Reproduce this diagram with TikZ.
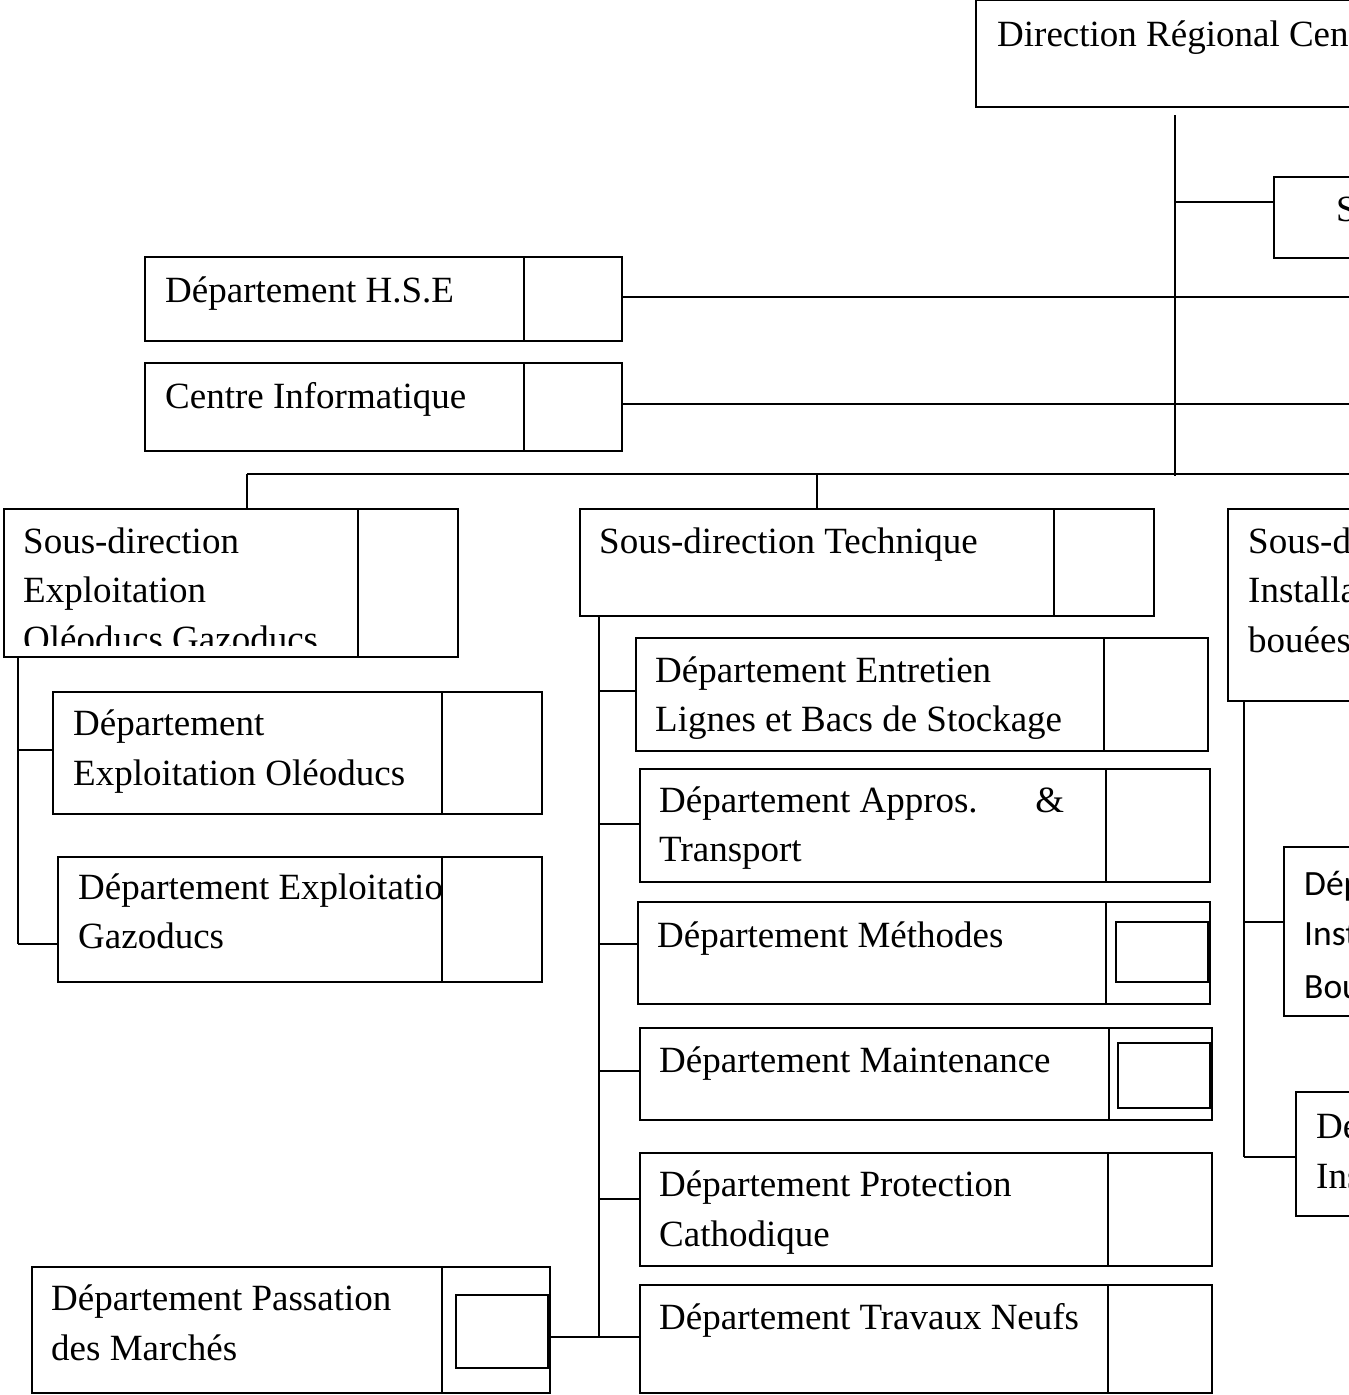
\documentclass[tikz,border=0pt]{standalone}
\usepackage{fontspec}
\setmainfont{Liberation Serif}
\newfontfamily\calib{Carlito}
\begin{document}
\begin{tikzpicture}[x=1pt,y=-1pt,
  ln/.style={line width=1.5pt},
  bx/.style={draw, line width=1.5pt, rectangle, inner sep=0pt, anchor=north west},
  tx/.style={anchor=base west, inner sep=0pt, font=\fontsize{37}{49}\selectfont},
  sx/.style={anchor=base west, inner sep=0pt, font=\calib\fontsize{35.5}{49}\selectfont}]
\useasboundingbox (0,0) rectangle (1349,1395);
\clip (0,0) rectangle (1349,1395);
% Direction
\node[bx, minimum width=420pt, minimum height=107pt] (dir) at (975,-1) {};
\node[tx] (dirT) at (997,46) {Direction Régional Cen};
% trunk
\coordinate (tTop) at (1175,115);
\coordinate (tBot) at (1175,476);
\draw[ln] (tTop) -- (tBot);
% S box
\node[bx, minimum width=200pt, minimum height=81pt] (sbox) at (1273,176) {};
\node[tx] (sboxT) at (1336,221) {S};
\coordinate (j1) at (1175,202);
\draw[ln] (j1) -- (j1 -| sbox.west);
% HSE
\node[bx, minimum width=379pt, minimum height=84pt] (hse) at (144,256) {};
\node[bx, minimum width=98pt, minimum height=84pt] (hseS) at (523,256) {};
\node[tx] (hseT) at (165,302) {Département H.S.E};
\coordinate (hseE) at (1352,297);
\draw[ln] (hseE -| hseS.east) -- (hseE);
% Centre Informatique
\node[bx, minimum width=379pt, minimum height=88pt] (ci) at (144,362) {};
\node[bx, minimum width=98pt, minimum height=88pt] (ciS) at (523,362) {};
\node[tx] (ciT) at (165,408) {Centre Informatique};
\coordinate (ciE) at (1352,404);
\draw[ln] (ciE -| ciS.east) -- (ciE);
% bottom bar
\coordinate (barL) at (247,474);
\coordinate (barR) at (1352,474);
\coordinate (barM) at (817,474);
\draw[ln] (barL) -- (barR);
% Sous-direction Exploitation
\node[bx, minimum width=354pt, minimum height=148pt] (sde) at (3,508) {};
\node[bx, minimum width=100pt, minimum height=148pt] (sdeS) at (357,508) {};
\draw[ln] (barL) -- (barL |- sde.north);
\node[tx] (sdeT1) at (23,553) {Sous-direction};
\node[tx] (sdeT2) at (23,602) {Exploitation};
\begin{scope}
\clip (0,600) rectangle (357,645);
\node[tx] (sdeT3) at (23,651) {Oléoducs Gazoducs};
\end{scope}
% left vertical
\coordinate (lvTop) at (18,656);
\coordinate (lvBot) at (18,944);
\draw[ln] (lvTop) -- (lvBot);
% Dep Expl Oleoducs
\node[bx, minimum width=389pt, minimum height=122pt] (deo) at (52,691) {};
\node[bx, minimum width=100pt, minimum height=122pt] (deoS) at (441,691) {};
\node[tx] (deoT1) at (73,735) {Département};
\node[tx] (deoT2) at (73,785) {Exploitation Oléoducs};
\coordinate (jdeo) at (18,750);
\draw[ln] (jdeo) -- (jdeo -| deo.west);
% Dep Expl Gazoducs
\node[bx, minimum width=384pt, minimum height=125pt] (deg) at (57,856) {};
\node[bx, minimum width=100pt, minimum height=125pt] (degS) at (441,856) {};
\begin{scope}
\clip (60,860) rectangle (440,910);
\node[tx] (degT1) at (78,899) {Département Exploitatio};
\end{scope}
\node[tx] (degT2) at (78,948) {Gazoducs};
\draw[ln] (lvBot) -- (lvBot -| deg.west);
% Sous-direction Technique
\node[bx, minimum width=474pt, minimum height=107pt] (sdt) at (579,508) {};
\node[bx, minimum width=100pt, minimum height=107pt] (sdtS) at (1053,508) {};
\node[tx] (sdtT) at (599,553) {Sous-direction Technique};
\draw[ln] (barM) -- (barM |- sdt.north);
% middle vertical
\coordinate (mvTop) at (599,615);
\coordinate (mvBot) at (599,1337);
\draw[ln] (mvTop) -- (mvBot);
% Entretien
\node[bx, minimum width=468pt, minimum height=113pt] (ent) at (635,637) {};
\node[bx, minimum width=104pt, minimum height=113pt] (entS) at (1103,637) {};
\node[tx] (entT1) at (655,682) {Département Entretien};
\node[tx] (entT2) at (655,731) {Lignes et Bacs de Stockage};
\coordinate (jent) at (599,691);
\draw[ln] (jent) -- (jent -| ent.west);
% Appros
\node[bx, minimum width=466pt, minimum height=113pt] (app) at (639,768) {};
\node[bx, minimum width=104pt, minimum height=113pt] (appS) at (1105,768) {};
\node[tx] (appT1) at (659,812) {\hbox to 405pt{Département Appros.\hfill\&}};
\node[tx] (appT2) at (659,861) {Transport};
\coordinate (japp) at (599,824);
\draw[ln] (japp) -- (japp -| app.west);
% Methodes
\node[bx, minimum width=468pt, minimum height=102pt] (met) at (637,901) {};
\node[bx, minimum width=104pt, minimum height=102pt] (metS) at (1105,901) {};
\node[bx, minimum width=92pt, minimum height=60pt] (metI) at (1115,921) {};
\node[tx] (metT) at (657,947) {Département Méthodes};
\coordinate (jmet) at (599,944);
\draw[ln] (jmet) -- (jmet -| met.west);
% Maintenance
\node[bx, minimum width=469pt, minimum height=92pt] (mai) at (639,1027) {};
\node[bx, minimum width=103pt, minimum height=92pt] (maiS) at (1108,1027) {};
\node[bx, minimum width=92pt, minimum height=65pt] (maiI) at (1117,1042) {};
\node[tx] (maiT) at (659,1072) {Département Maintenance};
\coordinate (jmai) at (599,1071);
\draw[ln] (jmai) -- (jmai -| mai.west);
% Protection
\node[bx, minimum width=468pt, minimum height=113pt] (pro) at (639,1152) {};
\node[bx, minimum width=104pt, minimum height=113pt] (proS) at (1107,1152) {};
\node[tx] (proT1) at (659,1196) {Département Protection};
\node[tx] (proT2) at (659,1246) {Cathodique};
\coordinate (jpro) at (599,1199);
\draw[ln] (jpro) -- (jpro -| pro.west);
% Travaux Neufs
\node[bx, minimum width=468pt, minimum height=108pt] (tra) at (639,1284) {};
\node[bx, minimum width=104pt, minimum height=108pt] (traS) at (1107,1284) {};
\node[tx] (traT) at (659,1329) {Département Travaux Neufs};
\draw[ln] (mvBot) -- (mvBot -| tra.west);
% Passation
\node[bx, minimum width=410pt, minimum height=126pt] (pas) at (31,1266) {};
\node[bx, minimum width=108pt, minimum height=126pt] (pasS) at (441,1266) {};
\node[bx, minimum width=92pt, minimum height=73pt] (pasI) at (455,1294) {};
\node[tx] (pasT1) at (51,1310) {Département Passation};
\node[tx] (pasT2) at (51,1360) {des Marchés};
\draw[ln] (mvBot -| pasS.east) -- (mvBot);
% Sous-direction Installations (cropped)
\node[bx, minimum width=200pt, minimum height=192pt] (sdi) at (1227,508) {};
\node[tx] (sdiT1) at (1248,553) {Sous-d};
\node[tx] (sdiT2) at (1248,602) {Installa};
\node[tx] (sdiT3) at (1248,652) {bouées};
\coordinate (rvTop) at (1244,700);
\coordinate (rvBot) at (1244,1157);
\draw[ln] (rvTop) -- (rvBot);
% Dep (sans)
\node[bx, minimum width=200pt, minimum height=169pt] (dib) at (1283,846) {};
\node[sx] (dibT1) at (1304,895) {Dép};
\node[sx] (dibT2) at (1304,945) {Inst};
\node[sx] (dibT3) at (1304,998) {Bou};
\coordinate (jdib) at (1244,922);
\draw[ln] (jdib) -- (jdib -| dib.west);
% De
\node[bx, minimum width=200pt, minimum height=124pt] (dei) at (1295,1091) {};
\node[tx] (deiT1) at (1316,1138) {De};
\node[tx] (deiT2) at (1316,1188) {Ins};
\draw[ln] (rvBot) -- (rvBot -| dei.west);
\end{tikzpicture}
\end{document}
